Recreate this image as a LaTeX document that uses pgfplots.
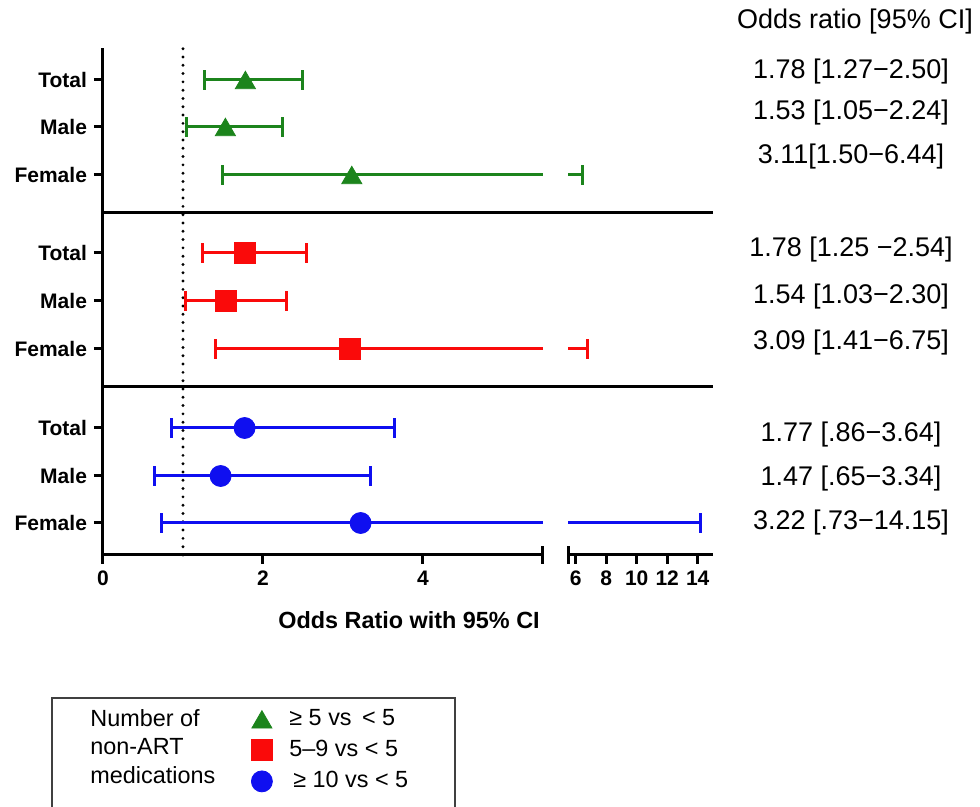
\documentclass[border=0pt]{standalone}
\usepackage{pgfplots}
\pgfplotsset{compat=1.18}
\usepackage{fontspec}
\setmainfont{Liberation Sans}
\definecolor{mygreen}{RGB}{28,132,28}
\definecolor{myred}{RGB}{250,10,10}
\definecolor{myblue}{RGB}{15,15,240}
\begin{document}
\begin{tikzpicture}
\useasboundingbox (0,0) rectangle (490pt,403.5pt);
\pgfplotsset{
  ebar/.style={line width=1.5pt, forget plot},
  cap/.style={only marks, mark=|, mark size=4.9pt, mark options={line width=1.5pt}, forget plot},
  sep/.style={line width=1.5pt, black, forget plot},
  common/.style={scale only axis, height=253.5pt, ymin=0, ymax=507, anchor=south west,
    axis x line*=bottom, axis line style={line width=1.5pt},
    tick style={line width=1.5pt, black}, tick align=outside, major tick length=4.5pt,
    ticklabel style={font=\bfseries\fontsize{10.5}{12}\selectfont},
    extra x tick style={tick align=center, major tick length=9pt, xticklabel={}},
    clip=false},
}
\begin{axis}[common, at={(51.5pt,126pt)}, width=220pt, xmin=0, xmax=5.5,
  axis y line*=left,
  xtick={0,2,4}, xticklabels={0,2,4}, extra x ticks={5.5},
  ytick={32,79,127,206,254,302,380,428,475},
  yticklabels={Female,Male,Total,Female,Male,Total,Female,Male,Total},
  legend style={at={(axis description cs:0.3364,-0.2978)}, anchor=north west, draw=none, fill=none, inner sep=0pt,
    font=\fontsize{11.7}{14}\selectfont, row sep=2.5pt, column sep=7.5pt,
    nodes={inner sep=1pt, text height=8.5pt, text depth=2.5pt}},
  legend cell align=left,
]
% reference line and separators
\addplot[black, line width=1.6pt, line cap=round, dash pattern=on 0pt off 4.15pt, forget plot] coordinates {(1,0)(1,507)};
\addplot[sep] coordinates {(0,342)(5.8125,342)};
\addplot[sep] coordinates {(0,168)(5.8125,168)};
% green: >=5 vs <5
\addplot[mygreen, ebar] coordinates {(1.27,475)(2.50,475)};
\addplot[mygreen, cap] coordinates {(1.27,475)(2.50,475)};
\addplot[mygreen, ebar] coordinates {(1.05,428)(2.24,428)};
\addplot[mygreen, cap] coordinates {(1.05,428)(2.24,428)};
\addplot[mygreen, ebar] coordinates {(1.50,380)(5.5,380)};
\addplot[mygreen, cap] coordinates {(1.50,380)};
% red: 5-9 vs <5
\addplot[myred, ebar] coordinates {(1.25,302)(2.54,302)};
\addplot[myred, cap] coordinates {(1.25,302)(2.54,302)};
\addplot[myred, ebar] coordinates {(1.03,254)(2.30,254)};
\addplot[myred, cap] coordinates {(1.03,254)(2.30,254)};
\addplot[myred, ebar] coordinates {(1.41,206)(5.5,206)};
\addplot[myred, cap] coordinates {(1.41,206)};
% blue: >=10 vs <5
\addplot[myblue, ebar] coordinates {(0.86,127)(3.64,127)};
\addplot[myblue, cap] coordinates {(0.86,127)(3.64,127)};
\addplot[myblue, ebar] coordinates {(0.65,79)(3.34,79)};
\addplot[myblue, cap] coordinates {(0.65,79)(3.34,79)};
\addplot[myblue, ebar] coordinates {(0.73,32)(5.5,32)};
\addplot[myblue, cap] coordinates {(0.73,32)};
% point estimates
\addplot[mygreen, only marks, mark=triangle*, mark size=5.8pt, mark options={yshift=-1.45pt}] coordinates {(1.78,475)(1.53,428)(3.11,380)};
\addlegendentry{≥ 5 vs \,< 5}
\addplot[myred, only marks, mark=square*, mark size=5.25pt] coordinates {(1.78,302)(1.54,254)(3.09,206)};
\addlegendentry{5–9 vs < 5}
\addplot[myblue, only marks, mark=*, mark size=5.25pt] coordinates {(1.77,127)(1.47,79)(3.22,32)};
\addlegendentry{\,≥ 10 vs < 5}
\end{axis}
\begin{axis}[common, at={(284pt,126pt)}, width=72.5pt, xmin=5.5, xmax=15,
  axis y line=none, ytick=\empty,
  xtick={6,8,10,12,14}, xticklabels={6,8,10,12,14}, extra x ticks={5.5},
]
\addplot[sep] coordinates {(5.5,342)(15,342)};
\addplot[sep] coordinates {(5.5,168)(15,168)};
\addplot[mygreen, ebar] coordinates {(5.5,380)(6.44,380)};
\addplot[mygreen, cap] coordinates {(6.44,380)};
\addplot[myred, ebar] coordinates {(5.5,206)(6.75,206)};
\addplot[myred, cap] coordinates {(6.75,206)};
\addplot[myblue, ebar] coordinates {(5.5,32)(14.15,32)};
\addplot[myblue, cap] coordinates {(14.15,32)};
\end{axis}
% x axis title
\node[font=\bfseries\fontsize{11.7}{14}\selectfont] at (204.5pt,93.5pt) {Odds Ratio with 95\% CI};
% right-hand column
\begin{scope}[every node/.style={font=\fontsize{13.5}{16}\selectfont, inner sep=0pt}]
\node at (427.5pt,392.5pt) {Odds ratio [95\% CI]};
\node at (425.5pt,367.5pt) {1.78 [1.27−2.50]};
\node at (425.5pt,347pt) {1.53 [1.05−2.24]};
\node at (425.5pt,325pt) {3.11[1.50−6.44]};
\node at (425.5pt,278.5pt) {1.78 [1.25 −2.54]};
\node at (425.5pt,255pt) {1.54 [1.03−2.30]};
\node at (425.5pt,232pt) {3.09 [1.41−6.75]};
\node at (425.5pt,186pt) {1.77 [.86−3.64]};
\node at (425.5pt,164pt) {1.47 [.65−3.34]};
\node at (425.5pt,142pt) {3.22 [.73−14.15]};
\end{scope}
% legend frame and title
\draw[line width=0.6pt, black!75] (26pt,-2pt) -- (26pt,54.5pt) -- (227.5pt,54.5pt) -- (227.5pt,-2pt);
\node[anchor=north west, align=left, inner sep=0pt, font=\fontsize{11.7}{14.25}\selectfont] at (45pt,49pt) {Number of\\non-ART\\medications};
\end{tikzpicture}
\end{document}
